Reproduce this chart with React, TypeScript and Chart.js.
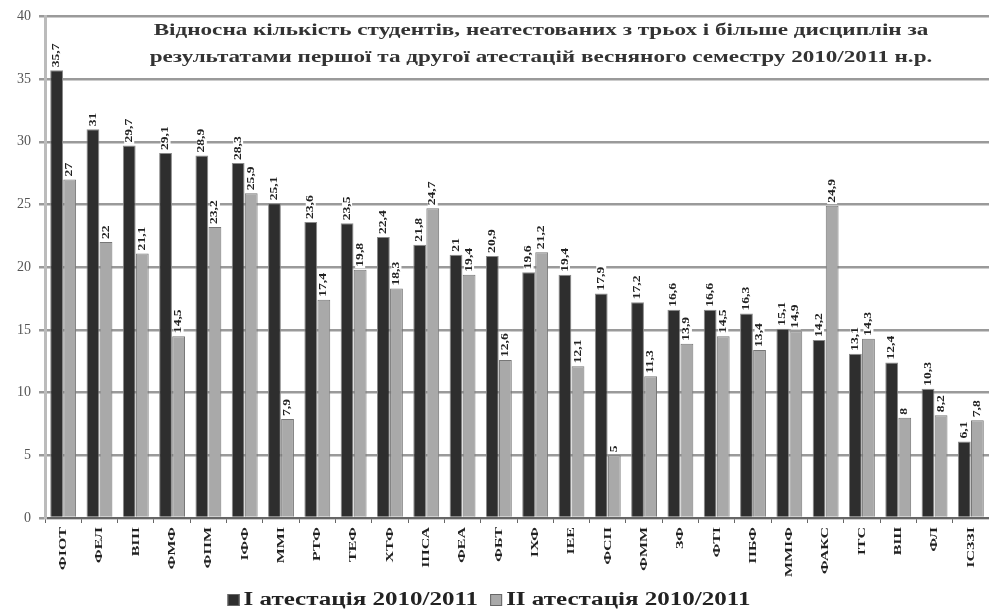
import React, { useEffect, useRef } from "react";
import { Chart, registerables } from "chart.js";

Chart.register(...registerables);

const categories = [
  "ФІОТ", "ФЕЛ", "ВПІ", "ФМФ", "ФПМ", "ІФФ", "ММІ", "РТФ", "ТЕФ", "ХТФ", "ІПСА", "ФЕА", "ФБТ",
  "ІХФ", "ІЕЕ", "ФСП", "ФММ", "ЗФ", "ФТІ", "ПБФ", "ММІФ", "ФАКС", "ІТС", "ВШ", "ФЛ", "ІСЗЗІ",
];
const attestation1 = [
  35.7, 31, 29.7, 29.1, 28.9, 28.3, 25.1, 23.6, 23.5, 22.4, 21.8, 21, 20.9,
  19.6, 19.4, 17.9, 17.2, 16.6, 16.6, 16.3, 15.1, 14.2, 13.1, 12.4, 10.3, 6.1,
];
const attestation2 = [
  27, 22, 21.1, 14.5, 23.2, 25.9, 7.9, 17.4, 19.8, 18.3, 24.7, 19.4, 12.6,
  21.2, 12.1, 5, 11.3, 13.9, 14.5, 13.4, 14.9, 24.9, 14.3, 8, 8.2, 7.8,
];
const seriesNames = ["І атестація 2010/2011", "ІІ атестація 2010/2011"];
const seriesColors = ["#2e2e2e", "#a9a9a9"];
const titleLines = [
  "Відносна кількість студентів, неатестованих з трьох і більше дисциплін за",
  "результатами першої та другої атестацій весняного семестру 2010/2011 н.р.",
];

const SERIF = '"Liberation Serif", "DejaVu Serif", serif';
const STRETCH = 1.36;

const fmt = (v: number) => String(v).replace(".", ",");

const valueLabels = {
  id: "valueLabels",
  afterDatasetsDraw(chart: any) {
    const ctx = chart.ctx;
    ctx.save();
    ctx.font = `bold 10px ${SERIF}`;
    chart.data.datasets.forEach((ds: any, i: number) => {
      const meta = chart.getDatasetMeta(i);
      meta.data.forEach((bar: any, j: number) => {
        const txt = fmt(ds.data[j]);
        ctx.save();
        ctx.translate(bar.x, bar.y - 3);
        ctx.rotate(-Math.PI / 2);
        ctx.scale(STRETCH, 1);
        const w = ctx.measureText(txt).width;
        ctx.fillStyle = "#ffffff";
        ctx.fillRect(-1, -5, w + 2, 10);
        ctx.fillStyle = "#222222";
        ctx.textAlign = "left";
        ctx.textBaseline = "middle";
        ctx.fillText(txt, 0, 0);
        ctx.restore();
      });
    });
    ctx.restore();
  },
};

const categoryLabels = {
  id: "categoryLabels",
  afterDraw(chart: any) {
    const ctx = chart.ctx;
    const xs = chart.scales.x;
    ctx.save();
    ctx.font = `bold 11px ${SERIF}`;
    ctx.fillStyle = "#222222";
    ctx.textAlign = "right";
    ctx.textBaseline = "middle";
    categories.forEach((c, i) => {
      ctx.save();
      ctx.translate(xs.getPixelForTick(i), chart.chartArea.bottom + 9);
      ctx.rotate(-Math.PI / 2);
      ctx.scale(1.45, 1);
      ctx.fillText(c, 0, 0);
      ctx.restore();
    });
    ctx.restore();
  },
};

const innerTitle = {
  id: "innerTitle",
  afterDraw(chart: any) {
    const ctx = chart.ctx;
    ctx.save();
    ctx.font = `bold 16px ${SERIF}`;
    ctx.fillStyle = "#333333";
    ctx.textAlign = "center";
    ctx.textBaseline = "middle";
    const cx = 541;
    [31, 58].forEach((y, k) => {
      ctx.save();
      ctx.translate(cx, y);
      ctx.scale(1.445, 1);
      ctx.fillText(titleLines[k], 0, 0);
      ctx.restore();
    });
    ctx.restore();
  },
};

const customLegend = {
  id: "customLegend",
  afterDraw(chart: any) {
    const ctx = chart.ctx;
    ctx.save();
    ctx.font = `bold 18px ${SERIF}`;
    ctx.textBaseline = "middle";
    ctx.textAlign = "left";
    const box = 12;
    const gapBox = 4;
    const gapItem = 12;
    const ls = 1.39;
    const widths = seriesNames.map((n) => ctx.measureText(n).width * ls);
    const total = widths.reduce((a, w) => a + box + gapBox + w, 0) + gapItem;
    let x = 489 - total / 2;
    const y = 600;
    seriesNames.forEach((n, i) => {
      ctx.fillStyle = seriesColors[i];
      ctx.fillRect(x, y - box / 2, box, box);
      ctx.strokeStyle = "#666666";
      ctx.lineWidth = 1;
      ctx.strokeRect(x + 0.5, y - box / 2 + 0.5, box - 1, box - 1);
      x += box + gapBox;
      ctx.save();
      ctx.translate(x, y);
      ctx.scale(ls, 1);
      ctx.fillStyle = "#222222";
      ctx.fillText(n, 0, 0);
      ctx.restore();
      x += widths[i] + gapItem;
    });
    ctx.restore();
  },
};

export default function App() {
  const ref = useRef<HTMLCanvasElement>(null);
  useEffect(() => {
    if (!ref.current) return;
    const chart = new Chart(ref.current, {
      type: "bar",
      data: {
        labels: categories,
        datasets: [
          {
            label: seriesNames[0],
            data: attestation1,
            backgroundColor: seriesColors[0],
            borderColor: "#8a8a8a",
            borderWidth: 1,
            categoryPercentage: 0.72,
            barPercentage: 0.98,
          },
          {
            label: seriesNames[1],
            data: attestation2,
            backgroundColor: seriesColors[1],
            borderColor: "#777777",
            borderWidth: 1,
            categoryPercentage: 0.72,
            barPercentage: 0.98,
          },
        ],
      },
      options: {
        animation: false,
        responsive: true,
        maintainAspectRatio: false,
        layout: { padding: { top: 8, right: 0, left: 0, bottom: 30 } },
        plugins: {
          title: { display: false },
          tooltip: { enabled: false },
          legend: { display: false },
        },
        scales: {
          x: {
            offset: true,
            grid: {
              offset: true,
              drawOnChartArea: false,
              drawTicks: true,
              tickLength: 5,
              color: "#666666",
            },
            border: { color: "#666666", width: 2 },
            ticks: { display: false },
            afterFit(scale: any) {
              scale.height = 66;
            },
          },
          y: {
            min: 0,
            max: 40,
            ticks: {
              stepSize: 5,
              padding: 8,
              color: "#555555",
              font: { family: SERIF, size: 14 },
            },
            grid: { color: "#9a9a9a", lineWidth: 2.5, tickLength: 6 },
            border: { color: "#bbbbbb", width: 3 },
            afterFit(scale: any) {
              scale.width = 45;
            },
          },
        },
      },
      plugins: [valueLabels, categoryLabels, innerTitle, customLegend],
    });
    return () => chart.destroy();
  }, []);
  return (
    <div style={{ position: "fixed", left: 0, top: 0, width: 989, height: 614, background: "#fff" }}>
      <canvas ref={ref} />
    </div>
  );
}
